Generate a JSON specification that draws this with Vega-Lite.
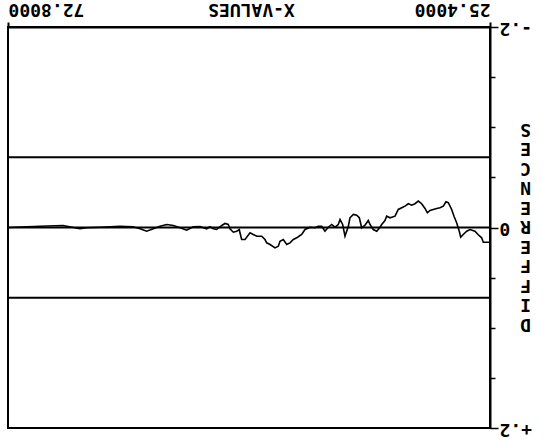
{
  "$schema": "https://vega.github.io/schema/vega-lite/v6.json",
  "width": 482,
  "height": 401,
  "autosize": "none",
  "padding": {"left": 8, "top": 27, "right": 53, "bottom": 11},
  "background": "white",
  "config": {
    "view": {"stroke": "black", "strokeWidth": 2},
    "font": "DejaVu Sans Mono"
  },
  "layer": [
    {
      "data": {"values": [
        {"level": -0.07},
        {"level": 0},
        {"level": 0.07}
      ]},
      "mark": {"type": "rule", "color": "black", "strokeWidth": 2},
      "encoding": {
        "y": {"field": "level", "type": "quantitative", "scale": {"domain": [-0.2, 0.2], "reverse": true, "nice": false, "zero": false}}
      }
    },
    {
      "data": {"values": [
        {"x": 72.80, "d": 0},
        {"x": 69.65, "d": -0.0013},
        {"x": 67.39, "d": -0.002},
        {"x": 65.72, "d": 0.0013},
        {"x": 65.06, "d": 0.0003},
        {"x": 63.75, "d": -0.0003},
        {"x": 61.79, "d": -0.0013},
        {"x": 60.51, "d": -0.0007},
        {"x": 59.82, "d": 0.0013},
        {"x": 59.16, "d": 0.0037},
        {"x": 58.51, "d": 0.0013},
        {"x": 57.85, "d": -0.0013},
        {"x": 57.19, "d": -0.003},
        {"x": 56.54, "d": -0.002},
        {"x": 55.89, "d": 0.0003},
        {"x": 55.23, "d": 0.0027},
        {"x": 54.58, "d": -0.0007},
        {"x": 53.92, "d": -0.001},
        {"x": 53.59, "d": 0.0003},
        {"x": 53.26, "d": 0.0013},
        {"x": 52.94, "d": -0.0007},
        {"x": 52.61, "d": 0.0013},
        {"x": 52.28, "d": 0.002},
        {"x": 51.78, "d": -0.002},
        {"x": 51.46, "d": -0.004},
        {"x": 51.14, "d": -0.003},
        {"x": 50.97, "d": 0.0013},
        {"x": 50.64, "d": 0.0047},
        {"x": 50.31, "d": 0.0037},
        {"x": 50.05, "d": 0.002},
        {"x": 49.99, "d": 0.0053},
        {"x": 49.82, "d": 0.012},
        {"x": 49.49, "d": 0.012},
        {"x": 49.00, "d": 0.0053},
        {"x": 48.68, "d": 0.007},
        {"x": 48.34, "d": 0.0087},
        {"x": 47.85, "d": 0.0087},
        {"x": 47.53, "d": 0.012},
        {"x": 47.36, "d": 0.0153},
        {"x": 47.03, "d": 0.017},
        {"x": 46.54, "d": 0.0203},
        {"x": 46.22, "d": 0.0187},
        {"x": 46.05, "d": 0.0137},
        {"x": 45.73, "d": 0.012},
        {"x": 45.39, "d": 0.017},
        {"x": 45.07, "d": 0.0153},
        {"x": 44.74, "d": 0.012},
        {"x": 44.41, "d": 0.0103},
        {"x": 44.08, "d": 0.008},
        {"x": 43.92, "d": 0.007},
        {"x": 43.59, "d": 0.002},
        {"x": 43.10, "d": -0.0003},
        {"x": 42.61, "d": 0.0003},
        {"x": 42.29, "d": -0.0013},
        {"x": 41.95, "d": -0.0013},
        {"x": 41.63, "d": 0.0037},
        {"x": 41.30, "d": -0.0003},
        {"x": 40.97, "d": -0.003},
        {"x": 40.64, "d": -0.0003},
        {"x": 40.32, "d": -0.003},
        {"x": 40.15, "d": -0.008},
        {"x": 39.89, "d": -0.003},
        {"x": 39.66, "d": 0.0087},
        {"x": 39.33, "d": -0.0013},
        {"x": 39.17, "d": -0.0097},
        {"x": 38.84, "d": -0.013},
        {"x": 38.51, "d": -0.0123},
        {"x": 38.25, "d": -0.0097},
        {"x": 38.02, "d": 0.0003},
        {"x": 37.69, "d": -0.0023},
        {"x": 37.37, "d": -0.007},
        {"x": 37.20, "d": -0.003},
        {"x": 36.88, "d": 0.002},
        {"x": 36.54, "d": 0.0037},
        {"x": 36.22, "d": -0.0003},
        {"x": 36.05, "d": -0.003},
        {"x": 35.73, "d": -0.007},
        {"x": 35.56, "d": -0.0113},
        {"x": 35.23, "d": -0.0097},
        {"x": 34.74, "d": -0.0113},
        {"x": 34.42, "d": -0.018},
        {"x": 34.08, "d": -0.0197},
        {"x": 33.76, "d": -0.0213},
        {"x": 33.43, "d": -0.0237},
        {"x": 33.10, "d": -0.0223},
        {"x": 32.78, "d": -0.0237},
        {"x": 32.45, "d": -0.0263},
        {"x": 32.12, "d": -0.0237},
        {"x": 31.79, "d": -0.019},
        {"x": 31.56, "d": -0.0147},
        {"x": 31.30, "d": -0.017},
        {"x": 30.98, "d": -0.018},
        {"x": 30.64, "d": -0.019},
        {"x": 30.32, "d": -0.0197},
        {"x": 29.99, "d": -0.0213},
        {"x": 29.73, "d": -0.0257},
        {"x": 29.50, "d": -0.0247},
        {"x": 29.17, "d": -0.018},
        {"x": 28.94, "d": -0.0113},
        {"x": 28.68, "d": -0.0047},
        {"x": 28.42, "d": 0.0037},
        {"x": 28.28, "d": 0.0097},
        {"x": 28.03, "d": 0.007},
        {"x": 27.69, "d": 0.0037},
        {"x": 27.37, "d": 0.002},
        {"x": 26.88, "d": 0.0037},
        {"x": 26.58, "d": 0.007},
        {"x": 26.22, "d": 0.0103},
        {"x": 26.06, "d": 0.0147},
        {"x": 25.40, "d": 0.0147}
      ]},
      "mark": {"type": "line", "color": "black", "strokeWidth": 1.6, "interpolate": "linear"},
      "encoding": {
        "x": {
          "field": "x", "type": "quantitative",
          "scale": {"domain": [25.4, 72.8], "reverse": true, "nice": false, "zero": false},
          "axis": {
            "orient": "top",
            "values": [25.4, 72.8],
            "format": ".4f",
            "grid": false,
            "labelAngle": 180,
            "labelAlign": {"condition": {"test": "datum.value < 50", "value": "left"}, "value": "right"},
            "labelBaseline": "top",
            "labelFont": "DejaVu Sans Mono",
            "labelFontWeight": "bold",
            "labelFontSize": 18,
            "labelColor": "black",
            "labelPadding": 5,
            "labelFlush": false,
            "labelOverlap": false,
            "tickSize": 5,
            "tickColor": "black",
            "tickWidth": 2,
            "domainColor": "black",
            "domainWidth": 2,
            "title": "X-VALUES",
            "titleAngle": 180,
            "titleFont": "DejaVu Sans Mono",
            "titleFontWeight": "bold",
            "titleFontSize": 18,
            "titleColor": "black",
            "titleBaseline": "top",
            "titleAlign": "center",
            "titleX": 243,
            "titleY": -10
          }
        },
        "y": {
          "field": "d", "type": "quantitative",
          "scale": {"domain": [-0.2, 0.2], "reverse": true, "nice": false, "zero": false},
          "axis": {
            "orient": "right",
            "values": [-0.2, -0.15, -0.1, -0.05, 0, 0.05, 0.1, 0.15, 0.2],
            "grid": false,
            "labelExpr": "abs(datum.value) < 0.001 ? '0' : (datum.value > 0.19 ? '+.2' : (datum.value < -0.19 ? '-.2' : ''))",
            "labelAngle": 180,
            "labelAlign": "right",
            "labelBaseline": "middle",
            "labelFont": "DejaVu Sans Mono",
            "labelFontWeight": "bold",
            "labelFontSize": 18,
            "labelColor": "black",
            "labelPadding": 1,
            "labelOverlap": false,
            "labelFlush": false,
            "tickSize": {"condition": {"test": "abs(datum.value) < 0.001 || abs(datum.value) > 0.19", "value": 8}, "value": 5},
            "tickColor": "black",
            "tickWidth": 1.5,
            "domainColor": "black",
            "domainWidth": 2,
            "title": ["D", "I", "F", "F", "E", "R", "E", "N", "C", "E", "S"],
            "titleAngle": 180,
            "titleFont": "DejaVu Sans Mono",
            "titleFontWeight": "bold",
            "titleFontSize": 18,
            "titleColor": "black",
            "titleLineHeight": 19.5,
            "titleAlign": "center",
            "titleBaseline": "middle",
            "titleX": 35,
            "titleY": 296
          }
        }
      }
    }
  ]
}
